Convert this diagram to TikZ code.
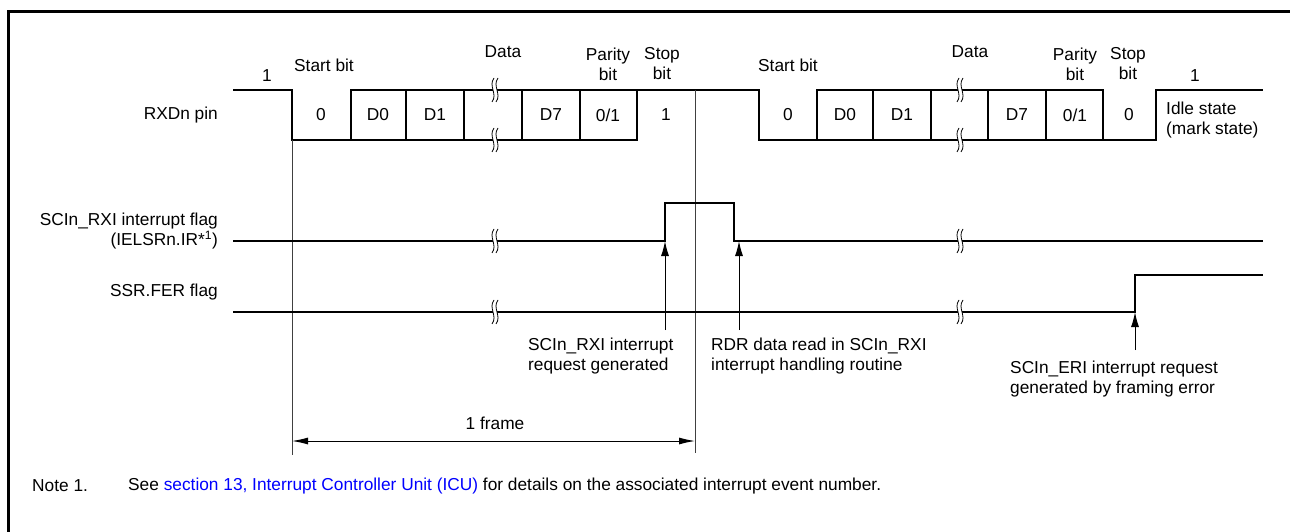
\documentclass[tikz,border=0pt]{standalone}
\usepackage{fontspec}
\setmainfont{Liberation Sans}
\usetikzlibrary{arrows.meta}
\newcommand\lbl{\fontsize{17.3}{20}\selectfont}
% break mark across a line at (x,y)
\newcommand\brkmark[2]{%
  \fill[white] (#1+1,#2-12) .. controls (#1-5,#2-4) and (#1+5,#2+4) .. (#1-1,#2+12)
    -- (#1+3,#2+12) .. controls (#1+9,#2+4) and (#1-1,#2-4) .. (#1+5,#2-12) -- cycle;
  \draw[line width=0.8pt] (#1+1,#2-12) .. controls (#1-5,#2-4) and (#1+5,#2+4) .. (#1-1,#2+12);
  \draw[line width=0.8pt] (#1+5,#2-12) .. controls (#1-1,#2-4) and (#1+9,#2+4) .. (#1+3,#2+12);
}
\begin{document}
\begin{tikzpicture}[x=1pt, y=-1pt,
    sig/.style={line width=1.5pt},
    cell/.style={line width=1.2pt},
    guide/.style={line width=0.8pt, black!75},
    lbl/.style={font=\lbl, inner sep=0pt},
    tip/.style={-{Latex[length=15pt,width=8pt]}, line width=1pt}]
    \useasboundingbox (0,0) rectangle (1290,532);
    \draw[line width=3pt] (8,532) -- (8,12) -- (1290,12);

    % signal names
    \node[lbl, anchor=east] (rxd) at (218,115) {RXDn pin};
    \node[lbl, anchor=east, align=right] (rxi) at (218,231) {SCIn\_RXI interrupt flag\\(IELSRn.IR*\textsuperscript{1})};
    \node[lbl, anchor=east] (fer) at (218,292) {SSR.FER flag};

    % RXDn waveform
    \draw[sig] (233,90) -- (292,90) -- (292,140) -- (637,140) -- (637,90);
    \draw[sig] (351,140) -- (351,90) -- (759,90) -- (759,140) -- (1156,140) -- (1156,90) -- (1263,90);
    \draw[sig] (817,140) -- (817,90) -- (1103,90) -- (1103,140);
    \foreach \x in {406,464,522,580,873,931,988,1046}
        \draw[cell] (\x,90) -- (\x,140);

    % frame guides
    \draw[guide] (292,140) coordinate (fa) -- (292,455) coordinate (fa');
    \draw[guide] (695,90) coordinate (fb) -- (695,453) coordinate (fb');

    % flags
    \draw[sig] (233,241) -- (665,241) -- (665,203) -- (734,203) -- (734,241) -- (1263,241);
    \draw[sig] (233,312) -- (1135,312) -- (1135,275) -- (1263,275);
    \foreach \x in {493,958} {
        \brkmark{\x}{90}
        \brkmark{\x}{140}
        \brkmark{\x}{241}
        \brkmark{\x}{312}
    }

    % bit values
    \node[lbl] (b0) at (321,115) {0};
    \node[lbl] (b1) at (378,115) {D0};
    \node[lbl] (b2) at (435,115) {D1};
    \node[lbl] (b3) at (551,115) {D7};
    \node[lbl] (b4) at (608,115) {0/1};
    \node[lbl] (b5) at (666,115) {1};
    \node[lbl] (c0) at (788,115) {0};
    \node[lbl] (c1) at (845,115) {D0};
    \node[lbl] (c2) at (902,115) {D1};
    \node[lbl] (c3) at (1017,115) {D7};
    \node[lbl] (c4) at (1075,115) {0/1};
    \node[lbl] (c5) at (1129,115) {0};

    % field names
    \node[lbl] (hi1) at (267,76) {1};
    \node[lbl] (st1) at (324,65) {Start bit};
    \node[lbl] (da1) at (503,52) {Data};
    \node[lbl, align=center] (pa1) at (608,64) {Parity\\bit};
    \node[lbl, align=center] (sp1) at (662,64) {Stop\\bit};
    \node[lbl] (st2) at (788,65) {Start bit};
    \node[lbl] (da2) at (970,52) {Data};
    \node[lbl, align=center] (pa2) at (1075,64) {Parity\\bit};
    \node[lbl, align=center] (sp2) at (1128,64) {Stop\\bit};
    \node[lbl] (hi2) at (1195,76) {1};
    \node[lbl, anchor=west, align=left] (idle) at (1166,120) {Idle state\\(mark state)};

    % events
    \node[lbl, anchor=west, align=left] (ev1) at (528,356) {SCIn\_RXI interrupt\\request generated};
    \node[lbl, anchor=west, align=left] (ev2) at (711,356) {RDR data read in SCIn\_RXI\\interrupt handling routine};
    \node[lbl, anchor=west, align=left] (ev3) at (1010,379) {SCIn\_ERI interrupt request\\generated by framing error};
    \coordinate (e1) at (665,330);
    \coordinate (e2) at (739,330);
    \coordinate (e3) at (1135,350);
    \draw[tip] (e1) -- (665,241);
    \draw[tip] (e2) -- (739,241);
    \draw[tip] (e3) -- (1135,312);

    % frame length
    \draw[{Latex[length=16pt,width=7pt]}-{Latex[length=16pt,width=7pt]}, line width=1pt] (292,441) -- (695,441);
    \node[lbl] (frm) at (495,423) {1 frame};

    % note
    \node[lbl, anchor=west] (note) at (32,486) {Note 1.};
    \node[lbl, anchor=west] (notetxt) at (128,486) {See \textcolor{blue}{section 13, Interrupt Controller Unit (ICU)} for details on the associated interrupt event number.};
\end{tikzpicture}
\end{document}
